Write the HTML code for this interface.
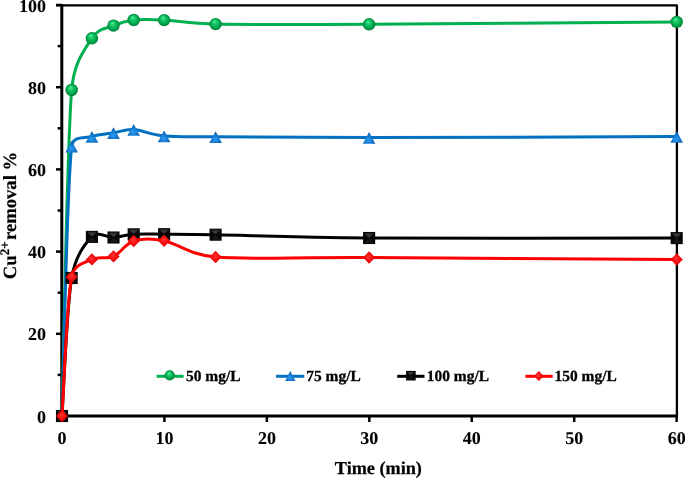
<!DOCTYPE html>
<html><head><meta charset="utf-8"><style>
html,body{margin:0;padding:0;background:#fff;}
body{width:685px;height:478px;overflow:hidden;}
svg{display:block;}
text{font-family:"Liberation Serif",serif;font-weight:bold;fill:#000;text-rendering:geometricPrecision;}
</style></head><body>
<svg style="will-change:transform" width="685" height="478" viewBox="0 0 685 478">
<defs>
<radialGradient id="gs" cx="0.5" cy="0.5" r="0.5" fx="0.4" fy="0.27">
<stop offset="0" stop-color="#58F7A2"/><stop offset="0.3" stop-color="#20CD6C"/><stop offset="0.72" stop-color="#00A84E"/><stop offset="1" stop-color="#007A35"/>
</radialGradient>
<radialGradient id="gt" cx="0.46" cy="0.68" r="0.62">
<stop offset="0" stop-color="#2A9CF6"/><stop offset="0.45" stop-color="#1A7ED6"/><stop offset="1" stop-color="#0A5AA6"/>
</radialGradient>
<linearGradient id="gqt" x1="0" y1="0" x2="0" y2="1"><stop offset="0" stop-color="#242424"/><stop offset="0.5" stop-color="#3c3c3c"/><stop offset="1" stop-color="#1a1a1a"/></linearGradient>
<linearGradient id="gq" x1="0" y1="0" x2="0" y2="1">
<stop offset="0" stop-color="#3a3a3a"/><stop offset="0.5" stop-color="#111"/><stop offset="1" stop-color="#050505"/>
</linearGradient>
<radialGradient id="gd" cx="0.5" cy="0.5" r="0.6" fx="0.45" fy="0.4">
<stop offset="0" stop-color="#FF3434"/><stop offset="0.55" stop-color="#F20A0A"/><stop offset="1" stop-color="#C80000"/>
</radialGradient>
</defs>

<g stroke="#000" fill="none" stroke-linecap="butt">
<path d="M56,5.3 H676.9 V416" stroke-width="2.3" stroke-linejoin="round"/>
<line x1="61.8" y1="4.2" x2="61.8" y2="417.5" stroke-width="3"/>
<line x1="60.5" y1="416" x2="678" y2="416" stroke-width="3"/>
<line x1="56.0" y1="416.00" x2="62" y2="416.00" stroke-width="2.5"/>
<line x1="57.6" y1="374.90" x2="62" y2="374.90" stroke-width="2.5"/>
<line x1="56.0" y1="333.80" x2="62" y2="333.80" stroke-width="2.5"/>
<line x1="57.6" y1="292.70" x2="62" y2="292.70" stroke-width="2.5"/>
<line x1="56.0" y1="251.60" x2="62" y2="251.60" stroke-width="2.5"/>
<line x1="57.6" y1="210.50" x2="62" y2="210.50" stroke-width="2.5"/>
<line x1="56.0" y1="169.40" x2="62" y2="169.40" stroke-width="2.5"/>
<line x1="57.6" y1="128.30" x2="62" y2="128.30" stroke-width="2.5"/>
<line x1="56.0" y1="87.20" x2="62" y2="87.20" stroke-width="2.5"/>
<line x1="57.6" y1="46.10" x2="62" y2="46.10" stroke-width="2.5"/>
<line x1="56.0" y1="5.00" x2="62" y2="5.00" stroke-width="2.5"/>
<line x1="62.00" y1="416" x2="62.00" y2="422" stroke-width="2.5"/>
<line x1="164.44" y1="416" x2="164.44" y2="422" stroke-width="2.5"/>
<line x1="266.88" y1="416" x2="266.88" y2="422" stroke-width="2.5"/>
<line x1="369.32" y1="416" x2="369.32" y2="422" stroke-width="2.5"/>
<line x1="471.76" y1="416" x2="471.76" y2="422" stroke-width="2.5"/>
<line x1="574.20" y1="416" x2="574.20" y2="422" stroke-width="2.5"/>
<line x1="676.64" y1="416" x2="676.64" y2="422" stroke-width="2.5"/>
</g>
<g font-size="18" stroke="#000" stroke-width="0.08">
<text x="45.9" y="422.50" text-anchor="end">0</text>
<text x="45.9" y="340.30" text-anchor="end">20</text>
<text x="45.9" y="258.10" text-anchor="end">40</text>
<text x="45.9" y="175.90" text-anchor="end">60</text>
<text x="45.9" y="93.70" text-anchor="end">80</text>
<text x="45.9" y="11.50" text-anchor="end">100</text>
<text x="62.00" y="444" text-anchor="middle">0</text>
<text x="164.44" y="444" text-anchor="middle">10</text>
<text x="266.88" y="444" text-anchor="middle">20</text>
<text x="369.32" y="444" text-anchor="middle">30</text>
<text x="471.76" y="444" text-anchor="middle">40</text>
<text x="574.20" y="444" text-anchor="middle">50</text>
<text x="676.64" y="444" text-anchor="middle">60</text>
<text x="378.4" y="473.6" text-anchor="middle" font-size="18.2" stroke-width="0.25">Time (min)</text>
<text transform="translate(15.8,279.2) rotate(-90)" font-size="18.67" stroke-width="0.2">Cu<tspan font-size="13.1" dy="-6.4">2+</tspan><tspan dy="6.4" dx="-3.4"> removal %</tspan></text>
</g>
<path d="M62.00,416.00 C63.61,361.67 66.67,152.95 71.65,90.00 C73.84,62.32 84.93,49.03 91.90,38.30 C98.73,27.79 106.53,28.65 113.50,25.60 C120.47,22.55 125.27,20.92 133.70,20.00 C142.13,19.08 150.45,19.42 164.10,20.10 C177.75,20.78 189.78,23.57 215.60,24.10 C249.77,24.80 292.35,24.67 369.10,24.30 C445.95,23.93 625.43,22.30 676.70,21.90" fill="none" stroke="#00B050" stroke-width="3" stroke-linejoin="round" stroke-linecap="round"/>
<circle cx="71.65" cy="90.00" r="6.20" fill="url(#gs)"/>
<circle cx="91.90" cy="38.30" r="6.20" fill="url(#gs)"/>
<circle cx="113.50" cy="25.60" r="6.20" fill="url(#gs)"/>
<circle cx="133.70" cy="20.00" r="6.20" fill="url(#gs)"/>
<circle cx="164.10" cy="20.10" r="6.20" fill="url(#gs)"/>
<circle cx="215.60" cy="24.10" r="6.20" fill="url(#gs)"/>
<circle cx="369.10" cy="24.30" r="6.20" fill="url(#gs)"/>
<circle cx="676.70" cy="21.90" r="6.20" fill="url(#gs)"/>
<path d="M62.00,416.00 C63.61,371.05 66.67,192.88 71.65,146.30 C72.85,135.12 84.93,138.75 91.90,136.50 C98.88,134.25 106.53,133.95 113.50,132.80 C120.47,131.65 125.27,129.07 133.70,129.60 C142.13,130.13 150.45,134.80 164.10,136.00 C177.75,137.20 189.85,136.60 215.60,136.80 C249.77,137.07 292.35,137.63 369.10,137.60 C445.95,137.57 625.43,136.77 676.70,136.60" fill="none" stroke="#0070C0" stroke-width="3" stroke-linejoin="round" stroke-linecap="round"/>
<path d="M71.65,140.70 L77.95,152.50 L65.35,152.50 Z" fill="url(#gt)"/>
<path d="M91.90,130.90 L98.20,142.70 L85.60,142.70 Z" fill="url(#gt)"/>
<path d="M113.50,127.20 L119.80,139.00 L107.20,139.00 Z" fill="url(#gt)"/>
<path d="M133.70,124.00 L140.00,135.80 L127.40,135.80 Z" fill="url(#gt)"/>
<path d="M164.10,130.40 L170.40,142.20 L157.80,142.20 Z" fill="url(#gt)"/>
<path d="M215.60,131.20 L221.90,143.00 L209.30,143.00 Z" fill="url(#gt)"/>
<path d="M369.10,132.00 L375.40,143.80 L362.80,143.80 Z" fill="url(#gt)"/>
<path d="M676.70,131.00 L683.00,142.80 L670.40,142.80 Z" fill="url(#gt)"/>
<path d="M62.00,416.00 C63.61,393.00 66.67,307.85 71.65,278.00 C75.42,255.40 84.93,243.65 91.90,236.90 C98.88,230.15 106.53,237.93 113.50,237.50 C120.47,237.07 125.27,234.85 133.70,234.30 C142.13,233.75 150.45,234.13 164.10,234.20 C177.75,234.27 189.85,234.22 215.60,234.70 C249.77,235.33 292.33,237.43 369.10,238.00 C445.95,238.57 625.43,238.08 676.70,238.10" fill="none" stroke="#000000" stroke-width="3" stroke-linejoin="round" stroke-linecap="round"/>
<rect x="55.95" y="409.95" width="12.10" height="12.10" fill="#050505"/><path d="M56.95,410.95 L67.05,410.95 L62.00,416.00 Z" fill="url(#gqt)"/><path d="M56.95,421.05 L67.05,421.05 L62.00,416.00 Z" fill="#161616"/>
<rect x="65.60" y="271.95" width="12.10" height="12.10" fill="#050505"/><path d="M66.60,272.95 L76.70,272.95 L71.65,278.00 Z" fill="url(#gqt)"/><path d="M66.60,283.05 L76.70,283.05 L71.65,278.00 Z" fill="#161616"/>
<rect x="85.85" y="230.85" width="12.10" height="12.10" fill="#050505"/><path d="M86.85,231.85 L96.95,231.85 L91.90,236.90 Z" fill="url(#gqt)"/><path d="M86.85,241.95 L96.95,241.95 L91.90,236.90 Z" fill="#161616"/>
<rect x="107.45" y="231.45" width="12.10" height="12.10" fill="#050505"/><path d="M108.45,232.45 L118.55,232.45 L113.50,237.50 Z" fill="url(#gqt)"/><path d="M108.45,242.55 L118.55,242.55 L113.50,237.50 Z" fill="#161616"/>
<rect x="127.65" y="228.25" width="12.10" height="12.10" fill="#050505"/><path d="M128.65,229.25 L138.75,229.25 L133.70,234.30 Z" fill="url(#gqt)"/><path d="M128.65,239.35 L138.75,239.35 L133.70,234.30 Z" fill="#161616"/>
<rect x="158.05" y="228.15" width="12.10" height="12.10" fill="#050505"/><path d="M159.05,229.15 L169.15,229.15 L164.10,234.20 Z" fill="url(#gqt)"/><path d="M159.05,239.25 L169.15,239.25 L164.10,234.20 Z" fill="#161616"/>
<rect x="209.55" y="228.65" width="12.10" height="12.10" fill="#050505"/><path d="M210.55,229.65 L220.65,229.65 L215.60,234.70 Z" fill="url(#gqt)"/><path d="M210.55,239.75 L220.65,239.75 L215.60,234.70 Z" fill="#161616"/>
<rect x="363.05" y="231.95" width="12.10" height="12.10" fill="#050505"/><path d="M364.05,232.95 L374.15,232.95 L369.10,238.00 Z" fill="url(#gqt)"/><path d="M364.05,243.05 L374.15,243.05 L369.10,238.00 Z" fill="#161616"/>
<rect x="670.65" y="232.05" width="12.10" height="12.10" fill="#050505"/><path d="M671.65,233.05 L681.75,233.05 L676.70,238.10 Z" fill="url(#gqt)"/><path d="M671.65,243.15 L681.75,243.15 L676.70,238.10 Z" fill="#161616"/>
<path d="M62.00,416.00 C63.61,392.82 66.67,303.00 71.65,276.90 C74.16,263.76 84.93,262.82 91.90,259.40 C98.88,255.98 106.53,259.47 113.50,256.40 C120.47,253.33 125.27,243.62 133.70,241.00 C142.13,238.38 150.45,238.03 164.10,240.70 C177.75,243.37 188.68,254.79 215.60,257.00 C249.77,259.80 292.35,257.08 369.10,257.50 C445.95,257.92 625.43,259.17 676.70,259.50" fill="none" stroke="#FF0000" stroke-width="3" stroke-linejoin="round" stroke-linecap="round"/>
<path d="M62.00,409.80 L68.10,416.00 L62.00,422.20 L55.90,416.00 Z" fill="url(#gd)"/>
<path d="M71.65,270.70 L77.75,276.90 L71.65,283.10 L65.55,276.90 Z" fill="url(#gd)"/>
<path d="M91.90,253.20 L98.00,259.40 L91.90,265.60 L85.80,259.40 Z" fill="url(#gd)"/>
<path d="M113.50,250.20 L119.60,256.40 L113.50,262.60 L107.40,256.40 Z" fill="url(#gd)"/>
<path d="M133.70,234.80 L139.80,241.00 L133.70,247.20 L127.60,241.00 Z" fill="url(#gd)"/>
<path d="M164.10,234.50 L170.20,240.70 L164.10,246.90 L158.00,240.70 Z" fill="url(#gd)"/>
<path d="M215.60,250.80 L221.70,257.00 L215.60,263.20 L209.50,257.00 Z" fill="url(#gd)"/>
<path d="M369.10,251.30 L375.20,257.50 L369.10,263.70 L363.00,257.50 Z" fill="url(#gd)"/>
<path d="M676.70,253.30 L682.80,259.50 L676.70,265.70 L670.60,259.50 Z" fill="url(#gd)"/>
<line x1="156.6" y1="376.3" x2="183.6" y2="376.3" stroke="#00B050" stroke-width="3"/>
<circle cx="169.70" cy="375.30" r="5.10" fill="url(#gs)"/>
<text x="186.0" y="380.8" font-size="15.45" stroke="#000" stroke-width="0.3">50 mg/L</text>
<line x1="276.1" y1="376.3" x2="304.3" y2="376.3" stroke="#0070C0" stroke-width="3"/>
<path d="M290.30,370.95 L295.50,380.95 L285.10,380.95 Z" fill="url(#gt)"/>
<text x="306.3" y="380.8" font-size="15.45" stroke="#000" stroke-width="0.3">75 mg/L</text>
<line x1="397.2" y1="376.3" x2="424.5" y2="376.3" stroke="#000000" stroke-width="3"/>
<rect x="406.10" y="370.90" width="9.60" height="9.60" fill="#050505"/><path d="M407.10,371.90 L414.70,371.90 L410.90,375.70 Z" fill="url(#gqt)"/><path d="M407.10,379.50 L414.70,379.50 L410.90,375.70 Z" fill="#161616"/>
<text x="426.8" y="380.8" font-size="15.45" stroke="#000" stroke-width="0.3">100 mg/L</text>
<line x1="525.4" y1="376.3" x2="552.7" y2="376.3" stroke="#FF0000" stroke-width="3"/>
<path d="M538.80,370.90 L543.60,376.00 L538.80,381.10 L534.00,376.00 Z" fill="url(#gd)"/>
<text x="554.6" y="380.8" font-size="15.45" stroke="#000" stroke-width="0.3">150 mg/L</text>
</svg></body></html>
